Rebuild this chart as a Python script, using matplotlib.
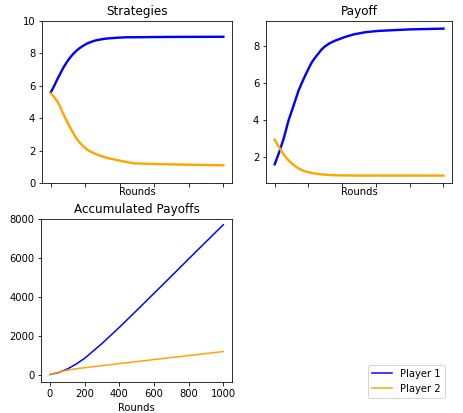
import matplotlib
matplotlib.use('Agg')
import matplotlib.pyplot as plt

rounds_strat = [0, 20, 40, 53, 72, 92, 111, 130, 150, 170, 189, 208, 228, 258, 287, 316, 345, 400, 442, 483, 678, 1000]
strat_p1 = [5.59, 6.0, 6.45, 6.71, 7.1, 7.45, 7.73, 7.97, 8.18, 8.35, 8.48, 8.6, 8.69, 8.8, 8.86, 8.91, 8.94, 8.98, 9.0, 9.0, 9.02, 9.03]
strat_p2 = [5.53, 5.3, 5.0, 4.75, 4.27, 3.85, 3.45, 3.08, 2.73, 2.47, 2.26, 2.08, 1.95, 1.8, 1.68, 1.58, 1.5, 1.38, 1.29, 1.21, 1.15, 1.09]

rounds_pay = [0, 24, 53, 82, 112, 141, 160, 180, 200, 219, 238, 258, 277, 297, 326, 356, 385, 414, 469, 540, 619, 805, 1000]
pay_p1 = [1.59, 2.17, 2.97, 3.96, 4.77, 5.57, 5.98, 6.38, 6.76, 7.1, 7.35, 7.58, 7.8, 7.97, 8.15, 8.28, 8.38, 8.48, 8.63, 8.75, 8.82, 8.9, 8.94]
pay_p2 = [2.92, 2.55, 2.12, 1.8, 1.56, 1.37, 1.28, 1.21, 1.16, 1.12, 1.09, 1.07, 1.05, 1.03, 1.01, 1.0, 0.99, 0.99, 0.98, 0.98, 0.98, 0.98, 0.98]

rounds_acc = [0, 50, 100, 150, 200, 300, 400, 500, 600, 700, 800, 900, 1000]
acc_p1 = [0, 100, 280, 530, 830, 1590, 2420, 3290, 4170, 5050, 5940, 6820, 7700]
acc_p2 = [0, 125, 220, 295, 350, 455, 560, 665, 770, 872, 975, 1078, 1180]

fig = plt.figure(figsize=(463 / 72, 413 / 72), dpi=72)

ax1 = fig.add_axes([0.091, 0.557, 0.41, 0.392])
ax2 = fig.add_axes([0.575, 0.557, 0.401, 0.392])
ax3 = fig.add_axes([0.089, 0.075, 0.412, 0.395])

ax1.plot(rounds_strat, strat_p1, color='blue', lw=2.4)
ax1.plot(rounds_strat, strat_p2, color='orange', lw=2.4)
ax1.set_ylim(0, 10)
ax1.set_title('Strategies')

ax2.plot(rounds_pay, pay_p1, color='blue', lw=2.4)
ax2.plot(rounds_pay, pay_p2, color='orange', lw=2.4)
ax2.set_ylim(0.58, 9.35)
ax2.set_yticks([2, 4, 6, 8])
ax2.set_title('Payoff')

l1, = ax3.plot(rounds_acc, acc_p1, color='blue', lw=1.5, label='Player 1')
l2, = ax3.plot(rounds_acc, acc_p2, color='orange', lw=1.5, label='Player 2')
ax3.set_ylim(-385, 8000)
ax3.set_title('Accumulated Payoffs')
ax3.set_xlabel('Rounds')

for ax in (ax1, ax2, ax3):
    ax.set_xlim(-50, 1050)
    ax.set_xticks([0, 200, 400, 600, 800, 1000])
for ax in (ax1, ax2):
    ax.set_xticklabels([])
    ax.set_xlabel('Rounds', labelpad=-3)

fig.legend(handles=[l1, l2], loc='lower right', bbox_to_anchor=(0.971, 0.025))

fig.savefig('out.png', dpi=72)
